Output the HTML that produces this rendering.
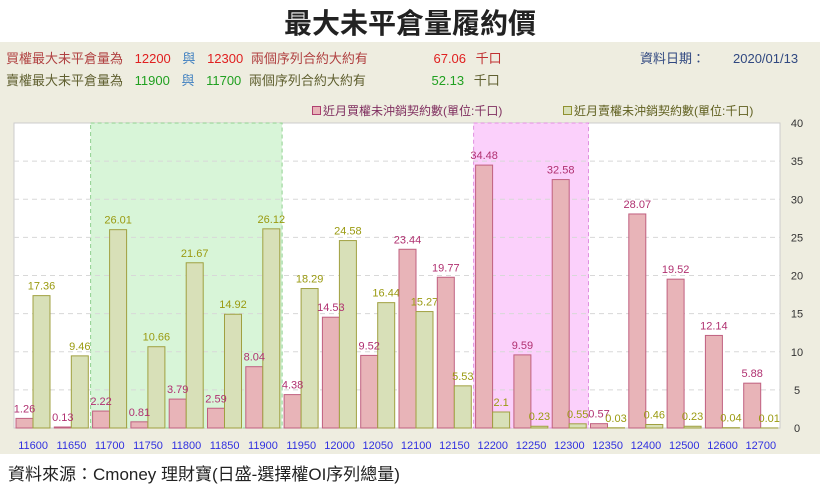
<!DOCTYPE html>
<html><head><meta charset="utf-8"><style>
body{margin:0;width:820px;height:485px;background:#fff;font-family:"Liberation Sans","Noto Sans CJK TC",sans-serif;overflow:hidden;position:relative}
.t{position:absolute;white-space:nowrap}
</style></head><body>
<div class="t" style="left:0;width:820px;top:2px;text-align:center;font-size:28px;font-weight:bold;color:#222">最大未平倉量履約價</div>
<div style="position:absolute;left:0;top:42px;width:820px;height:412px;background:#eeede0"></div>
<div class="t" style="left:6px;top:48px;font-size:13px;color:#c03030"><span style="color:#b04040">買權最大未平倉量為</span> <span style="color:#e02020;margin-left:8px">12200</span> <span style="color:#4080c0;margin-left:8px">與</span> <span style="color:#e02020;margin-left:8px">12300</span> <span style="color:#b04040;margin-left:4px">兩個序列合約大約有</span> <span style="color:#e02020;margin-left:62px">67.06</span> <span style="margin-left:6px">千口</span></div>
<div class="t" style="left:6px;top:70px;font-size:13px;color:#606030"><span>賣權最大未平倉量為</span> <span style="color:#20a020;margin-left:8px">11900</span> <span style="color:#4080c0;margin-left:8px">與</span> <span style="color:#20a020;margin-left:8px">11700</span> <span style="margin-left:4px">兩個序列合約大約有</span> <span style="color:#20a020;margin-left:62px">52.13</span> <span style="margin-left:6px">千口</span></div>
<div class="t" style="left:640px;top:48px;font-size:13px;color:#304880">資料日期：<span style="margin-left:28px">2020/01/13</span></div>
<div class="t" style="left:312px;top:102px;font-size:12px;color:#803060"><span style="display:inline-block;width:7px;height:7px;border:1px solid #b04070;background:#e8b4b8;margin-right:2px"></span>近月買權未沖銷契約數(單位:千口)</div>
<div class="t" style="left:563px;top:102px;font-size:12px;color:#606020"><span style="display:inline-block;width:7px;height:7px;border:1px solid #909030;background:#d8e0b8;margin-right:2px"></span>近月賣權未沖銷契約數(單位:千口)</div>
<svg id="c" width="820" height="485" style="position:absolute;left:0;top:0"></svg>
<div class="t" style="left:8px;top:460px;font-size:17px;color:#222">資料來源：Cmoney 理財寶(日盛-選擇權OI序列總量)</div>
<script>
const strikes=["11600","11650","11700","11750","11800","11850","11900","11950","12000","12050","12100","12150","12200","12250","12300","12350","12400","12500","12600","12700"];
const calls=[1.26,0.13,2.22,0.81,3.79,2.59,8.04,4.38,14.53,9.52,23.44,19.77,34.48,9.59,32.58,0.57,28.07,19.52,12.14,5.88];
const puts=[17.36,9.46,26.01,10.66,21.67,14.92,26.12,18.29,24.58,16.44,15.27,5.53,2.1,0.23,0.55,0.03,0.46,0.23,0.04,0.01];
const yTicks=[0,5,10,15,20,25,30,35,40];
const greenBand=[2,6], pinkBand=[12,14];
const NS="http://www.w3.org/2000/svg",svg=document.getElementById('c');
const L=14,R=780,T=123,B=428,bw=(R-L)/strikes.length;
const x=i=>L+i*bw, y=v=>B-(v/40)*(B-T);
function mk(t,a){const e=document.createElementNS(NS,t);for(const k in a)e.setAttribute(k,a[k]);svg.appendChild(e);return e;}
let e=mk('rect',{x:L,y:T,width:R-L,height:B-T,fill:'#fff',stroke:'#ccc'});

e=mk('rect',{x:x(greenBand[0]),y:T,width:x(greenBand[1]+1)-x(greenBand[0]),height:B-T,fill:'#d8f5d8',stroke:'#90d090','stroke-dasharray':'4,3'});

e=mk('rect',{x:x(pinkBand[0]),y:T,width:x(pinkBand[1]+1)-x(pinkBand[0]),height:B-T,fill:'#fbd0fb',stroke:'#e090e0','stroke-dasharray':'4,3'});

yTicks.forEach(v=>{
 if(v>0&&v<40){e=mk('line',{x1:L,x2:R,y1:y(v),y2:y(v),stroke:'#d8d8d8','stroke-dasharray':'5,4'});
 }
 e=mk('text',{x:797,y:y(v)+4,'font-size':11,'text-anchor':'middle',fill:'#333'});e.textContent=v;
 
});
strikes.forEach((s,i)=>{
 const cx=x(i)+2,w=17;
 e=mk('rect',{x:cx,y:y(calls[i]),width:w,height:B-y(calls[i]),fill:'#e8b4b8',stroke:'#c06080'});
 
 e=mk('rect',{x:cx+w,y:y(puts[i]),width:w,height:B-y(puts[i]),fill:'#d8e0b8',stroke:'#a0a040'});
 
 e=mk('text',{x:cx+w/2,y:y(calls[i])-6,'font-size':11,'text-anchor':'middle',fill:'#b03070'});e.textContent=calls[i];
 
 e=mk('text',{x:cx+w*1.5,y:y(puts[i])-6,'font-size':11,'text-anchor':'middle',fill:'#9a9a10'});e.textContent=puts[i];
 
 e=mk('text',{x:x(i)+bw/2,y:449,'font-size':11,'text-anchor':'middle',fill:'#3030e0'});e.textContent=s;
 
});
</script>
</body></html>
